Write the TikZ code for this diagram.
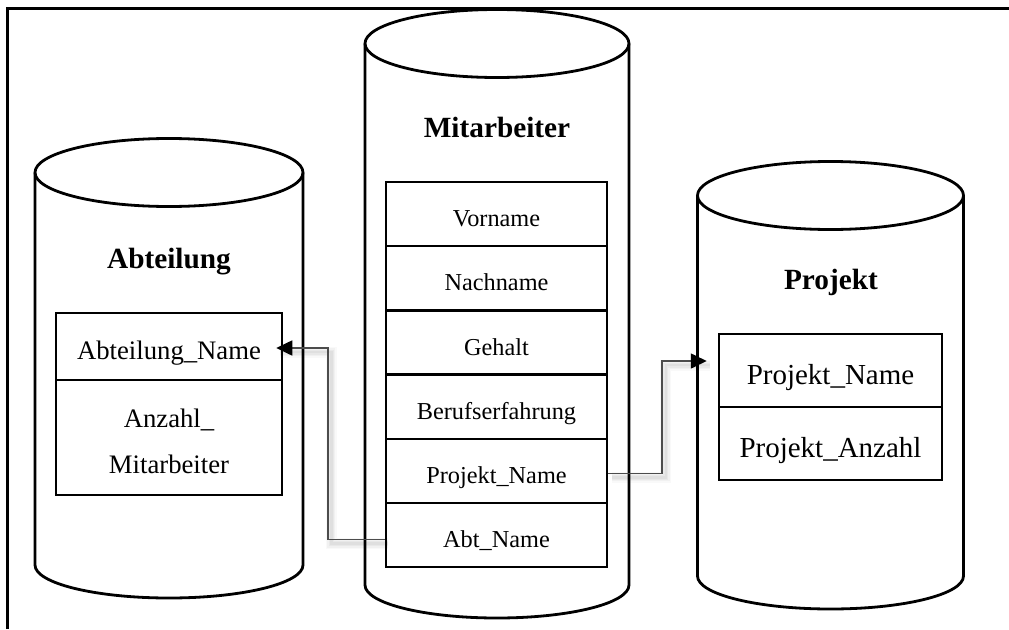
\documentclass[tikz,border=0pt]{standalone}
\usepackage{fontspec}
\setmainfont{Liberation Serif}
\usetikzlibrary{arrows.meta,calc}

\begin{document}
\begin{tikzpicture}[x=1pt,y=-1pt,
  frameline/.style={line width=3pt},
  cyl/.style={line width=2.8pt},
  cell/.style={draw, line width=2.5pt, inner sep=0pt, text height=25pt, text depth=0pt},
  midcell/.style={cell, minimum width=221pt, minimum height=64.2pt, font=\fontsize{24.3pt}{28pt}\selectfont},
  leftcell/.style={cell, minimum width=226pt, font=\fontsize{26.7pt}{30pt}\selectfont},
  rightcell/.style={cell, minimum width=223pt, minimum height=73pt, text height=27pt, font=\fontsize{29pt}{33pt}\selectfont},
  title/.style={anchor=base, font=\fontsize{29.3pt}{33pt}\selectfont\bfseries},
  plain/.style={anchor=base, font=\fontsize{26.7pt}{30pt}\selectfont},
  conn/.style={draw=black!70, line width=1.6pt, -{Triangle[length=16pt,width=15pt,color=black]}},
  shade/.style={draw=black, line width=#1}
]
\useasboundingbox (0,0) rectangle (1009,629);

% outer frame (open to the right and bottom)
\draw[frameline] (7,629) -- (7,8) -- (1009,8);

% database cylinders: top ellipse, sides and front half of the base
\foreach \cx/\rx/\ty/\by in {169/134/172.5/565, 497/132/43.5/585, 830.5/133/195.5/576} {
  \draw[cyl] (\cx,\ty) ellipse [x radius=\rx, y radius=34];
  \draw[cyl] (\cx-\rx,\ty) -- (\cx-\rx,\by)
    arc[start angle=180, end angle=0, x radius=\rx, y radius=33] -- (\cx+\rx,\ty);
}

% titles
\node[title] (tabt) at (169,268) {Abteilung};
\node[title] (tmit) at (497,137) {Mitarbeiter};
\node[title] (tpro) at (831,289) {Projekt};

% Abteilung table
\node[leftcell, minimum height=67pt] (aname) at (169,346.5) {Abteilung\_Name};
\node[leftcell, minimum height=115pt] (acount) at (169,437.5) {};
\node[plain] (acount1) at (169,427) {Anzahl\_};
\node[plain] (acount2) at (169,473) {Mitarbeiter};

% Mitarbeiter table
\node[midcell] (vor)  at (496.5,214.1) {Vorname};
\node[midcell] (nach) at (496.5,278.3) {Nachname};
\node[midcell] (geh)  at (496.5,342.5) {Gehalt};
\node[midcell] (ber)  at (496.5,406.7) {Berufserfahrung};
\node[midcell] (pname) at (496.5,470.9) {Projekt\_Name};
\node[midcell] (abt)  at (496.5,535.1) {Abt\_Name};

% Projekt table
\node[rightcell] (pjname) at (830.5,370.5) {Projekt\_Name};
\node[rightcell] (pjcount) at (830.5,443.5) {Projekt\_Anzahl};

% soft drop shadows of the connectors
\begin{scope}[transform canvas={shift={(3.5pt,-4pt)}}]
  \foreach \w/\o in {11/0.025, 8/0.03, 5/0.035, 2.5/0.04} {
    \draw[shade=\w pt, draw opacity=\o]
      ([yshift=-4.5pt]abt.west) -- ++(-57,0) |- ([xshift=-7pt,yshift=-1.5pt]aname.east);
    \draw[shade=\w pt, draw opacity=\o]
      ([yshift=-2.5pt]pname.east) -- ++(54,0) |- ([xshift=-11pt,yshift=9.5pt]pjname.west);
  }
\end{scope}

% connectors
\draw[conn] ([yshift=-4.5pt]abt.west) -- ++(-57,0) |- ([xshift=-7pt,yshift=-1.5pt]aname.east);
\draw[conn] ([yshift=-2.5pt]pname.east) -- ++(54,0) |- ([xshift=-11pt,yshift=9.5pt]pjname.west);
\end{tikzpicture}
\end{document}
